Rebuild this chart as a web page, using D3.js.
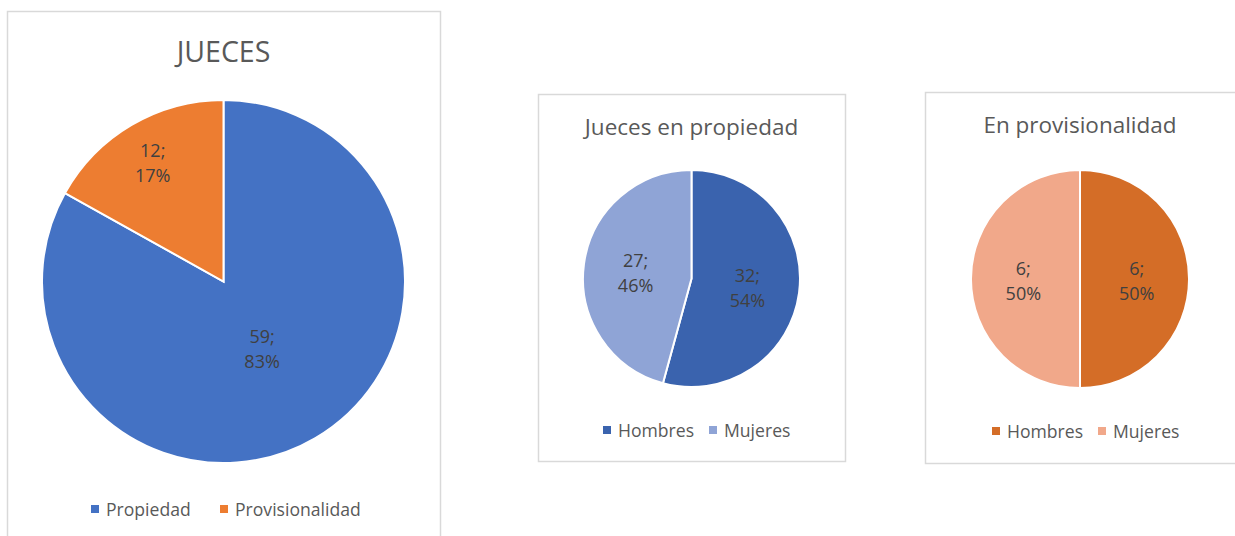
<!DOCTYPE html>
<html>
<head>
<meta charset="utf-8">
<script src="https://cdn.jsdelivr.net/npm/d3@7"></script>
<style>
  body { margin: 0; background: #fff; }
  text { font-family: "Open Sans", "Noto Sans", sans-serif; }
</style>
</head>
<body>
<div id="viz"></div>
<script>
const mainCats = ['Propiedad', 'Provisionalidad'];
const mainVals = [59, 12];
const mainColors = ['#4472C4', '#ED7D31'];

const sexCats = ['Hombres', 'Mujeres'];
const propVals = [32, 27];
const propColors = ['#3A63AE', '#8FA4D6'];
const provVals = [6, 6];
const provColors = ['#D46D27', '#F1A88A'];

const width = 1235;
const height = 536;

const svg = d3.select('#viz')
  .append('svg')
  .attr('width', width)
  .attr('height', height);

// one panel = frame + title + pie + legend
function drawPanel(opts) {
  const g = svg.append('g');

  g.append('rect')
    .attr('x', opts.box[0] + 0.5)
    .attr('y', opts.box[1] + 0.5)
    .attr('width', opts.box[2])
    .attr('height', opts.box[3])
    .attr('fill', '#fff')
    .attr('stroke', '#d9d9d9')
    .attr('stroke-width', 1.5);

  g.append('text')
    .attr('x', opts.cx)
    .attr('y', opts.titleY)
    .attr('text-anchor', 'middle')
    .attr('font-size', opts.titleSize)
    .attr('fill', '#595959')
    .text(opts.title);

  const total = d3.sum(opts.values);
  const pie = d3.pie().sort(null).value((d) => d)(opts.values);
  const arc = d3.arc().innerRadius(0).outerRadius(opts.r);
  const pct = d3.format('.0%');

  const pieG = g.append('g')
    .attr('transform', `translate(${opts.cx}, ${opts.cy})`);

  pieG.selectAll('path').data(pie)
    .enter().append('path')
      .attr('d', arc)
      .attr('fill', (d, i) => opts.colors[i])
      .attr('stroke', '#fff')
      .attr('stroke-width', 2);

  pieG.selectAll('text.lbl').data(pie)
    .enter().append('text')
      .attr('class', 'lbl')
      .attr('text-anchor', 'middle')
      .attr('font-size', opts.labelSize)
      .attr('fill', '#404040')
      .each(function (d) {
        const frac = d.value / total;
        const k = frac < 0.3 ? 0.77 : (frac > 0.7 ? 0.42 : 0.52);
        const mid = (d.startAngle + d.endAngle) / 2;
        const x = Math.sin(mid) * opts.r * k;
        const y = -Math.cos(mid) * opts.r * k;
        const t = d3.select(this);
        t.append('tspan').attr('x', x).attr('y', y - 4).text(`${d.value};`);
        t.append('tspan').attr('x', x).attr('y', y + 21).text(pct(frac));
      });

  const leg = g.append('g')
    .attr('transform', `translate(0, ${opts.legendY})`);
  opts.cats.forEach((c, i) => {
    const lx = opts.legendX[i];
    leg.append('rect')
      .attr('x', lx)
      .attr('y', -4)
      .attr('width', 8)
      .attr('height', 8)
      .attr('fill', opts.colors[i]);
    leg.append('text')
      .attr('x', lx + 15)
      .attr('y', 6.5)
      .attr('font-size', opts.legendSize)
      .attr('fill', '#595959')
      .text(c);
  });
}

drawPanel({
  box: [7, 11, 433, 540],
  title: 'JUECES', titleY: 62, titleSize: 28.5,
  cx: 223.5, cy: 281.5, r: 181.5,
  values: mainVals, colors: mainColors, cats: mainCats,
  labelSize: 18, legendSize: 17.6,
  legendY: 509, legendX: [91, 220]
});

drawPanel({
  box: [538, 94, 307, 367],
  title: 'Jueces en propiedad', titleY: 135, titleSize: 22.5,
  cx: 691.5, cy: 278.5, r: 108.5,
  values: propVals, colors: propColors, cats: sexCats,
  labelSize: 18, legendSize: 17.6,
  legendY: 430, legendX: [603, 709]
});

drawPanel({
  box: [925, 92, 320, 371],
  title: 'En provisionalidad', titleY: 133, titleSize: 22.5,
  cx: 1080, cy: 279, r: 109,
  values: provVals, colors: provColors, cats: sexCats,
  labelSize: 18, legendSize: 17.6,
  legendY: 431, legendX: [992, 1098]
});
</script>
</body>
</html>
